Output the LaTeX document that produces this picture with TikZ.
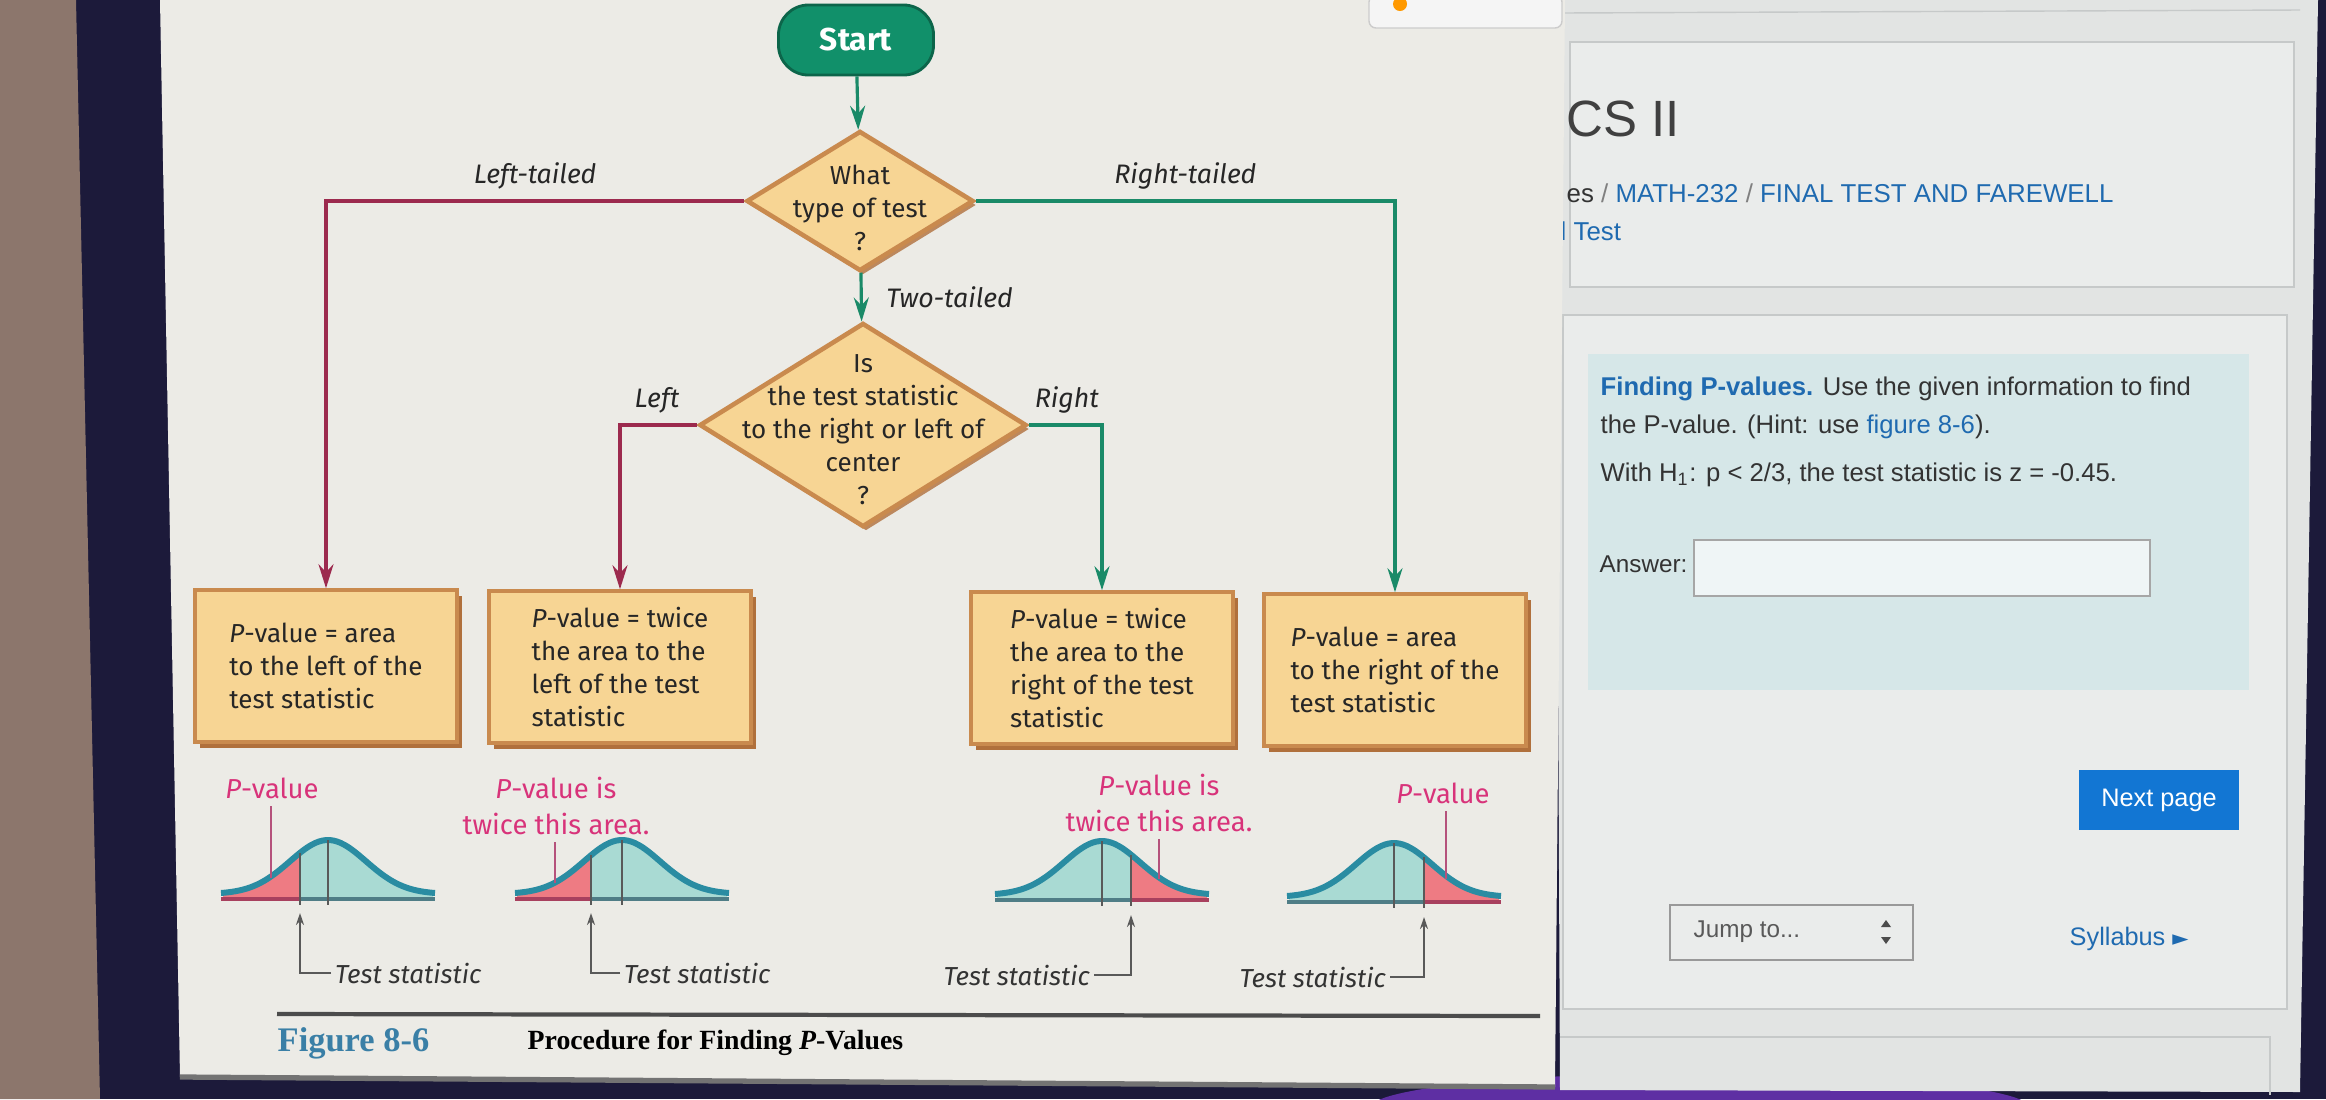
\documentclass[tikz,border=0pt]{standalone}
\usepackage{fontspec}
\setmainfont{Fira Sans}
\newfontfamily\webfont{Liberation Sans}
\newfontfamily\capfont{Liberation Serif}
\newfontfamily\symfont{DejaVu Sans}
\usetikzlibrary{shapes.geometric,arrows.meta,positioning,shadows}
\definecolor{wall}{HTML}{8C766C}
\definecolor{bezel}{HTML}{1C1A3A}
\definecolor{glow}{HTML}{5E2FA3}
\definecolor{paper}{HTML}{ECEBE6}
\definecolor{screen}{HTML}{E2E4E3}
\definecolor{panel}{HTML}{EAECEB}
\definecolor{panelline}{HTML}{C6C9C9}
\definecolor{qback}{HTML}{D6E7E8}
\definecolor{link}{HTML}{1F6AB0}
\definecolor{btn}{HTML}{1276D3}
\definecolor{startfill}{HTML}{11906A}
\definecolor{boxfill}{HTML}{F7D594}
\definecolor{boxedge}{HTML}{C98A4E}
\definecolor{boxshade}{HTML}{B0703C}
\definecolor{leftline}{HTML}{9C2A4E}
\definecolor{rightline}{HTML}{1A8A68}
\definecolor{pval}{HTML}{EE7B83}
\definecolor{pvalD}{HTML}{A8405E}
\definecolor{body}{HTML}{A9DAD3}
\definecolor{bodyD}{HTML}{4F7D86}
\definecolor{curve}{HTML}{2A8CA2}
\definecolor{pvtext}{HTML}{D8337A}
\definecolor{figblue}{HTML}{3A7FA6}

\begin{document}
\begin{tikzpicture}[x=0.01cm, y=-0.01cm,
    flow/.style={font=\fontsize{7.4}{9.4}\selectfont, text=black!85},
    startbox/.style={rounded corners=0.3cm, fill=startfill, draw=startfill!70!black, line width=0.8pt,
      minimum width=1.55cm, minimum height=0.7cm, text=white, font=\fontsize{9}{10}\selectfont\bfseries},
    quest/.style={diamond, fill=boxfill, draw=boxedge, line width=1.3pt, inner sep=0pt,
      drop shadow={shadow xshift=0.03cm, shadow yshift=-0.04cm, fill=boxshade, opacity=0.8}},
    result/.style={flow, rectangle, fill=boxfill, draw=boxedge, line width=1pt, align=left,
      minimum width=2.62cm, minimum height=1.52cm, inner sep=0pt,
      drop shadow={shadow xshift=0.05cm, shadow yshift=-0.06cm, fill=boxshade, opacity=1}},
    ltail/.style={draw=leftline, line width=0.9pt, -{Stealth[length=0.24cm, width=0.15cm, inset=0.08cm]}},
    rtail/.style={ltail, draw=rightline},
    branch/.style={font=\fontsize{7.6}{9}\selectfont\itshape, inner sep=1pt, text=black!85},
    pvlabel/.style={font=\fontsize{7.8}{10}\selectfont, text=pvtext, align=center, inner sep=0pt},
    tslabel/.style={font=\fontsize{7.4}{9}\selectfont\itshape, text=black!80, inner sep=1pt},
    leader/.style={draw=pvtext!60!gray, line width=0.5pt},
    tsarrow/.style={draw=black!65, line width=0.5pt, -{Stealth[length=0.12cm, width=0.08cm]}},
    axisline/.style={draw=black!65, line width=0.5pt},
    webtext/.style={anchor=west, inner sep=0pt, font=\webfont\fontsize{7.2}{8}\selectfont, text=black!80},
    panelbox/.style={fill=panel, draw=panelline, line width=0.6pt}]

  \useasboundingbox (0,0) rectangle (2326,1099);
  \fill[bezel] (0,0) rectangle (2326,1099);
  \fill[wall] (0,0) -- (76,0) -- (100,1099) -- (0,1099) -- cycle;
  \fill[glow] (1700,1108) ellipse (330 and 35);

  % screen on the right
  \fill[screen] (1555,0) -- (2318,0) -- (2300,1092) -- (1560,1090) -- cycle;
  \draw[panelline] (1560,13) -- (2300,10);
  \draw[panelbox] (1570,42) rectangle (2294,287);
  \node[webtext, font=\webfont\fontsize{14.5}{16}\selectfont, text=black!75] (course) at (1566,119) {CS II};
  \node[webtext, font=\webfont\fontsize{7.35}{8}\selectfont] (crumbs) at (1566,193)
    {es \textcolor{black!50}{/} \textcolor{link}{MATH-232} \textcolor{black!50}{/} \textcolor{link}{FINAL TEST AND FAREWELL}};
  \node[webtext, font=\webfont\fontsize{7.35}{8}\selectfont, text=link] (crumbs2) at (1560,231) {l Test};
  \draw[panelbox] (1563,315) rectangle (2287,1009);
  \fill[qback] (1588,354) rectangle (2249,690);
  \node[webtext, font=\webfont\fontsize{7.3}{8}\selectfont] (qline1) at (1600,389)
    {\textcolor{link}{\bfseries Finding P-values.} Use the given information to find};
  \node[webtext, font=\webfont\fontsize{7.3}{8}\selectfont] (qline2) at (1600,427)
    {the P-value. (Hint: use \textcolor{link}{figure 8-6}).};
  \node[webtext, font=\webfont\fontsize{7.3}{8}\selectfont] (qline3) at (1600,475)
    {With H\textsubscript{1}: p < 2/3, the test statistic is z = -0.45.};
  \node[webtext, font=\webfont\fontsize{6.9}{8}\selectfont] (answer) at (1599,564) {Answer:};
  \draw[fill=white!60!qback, draw=black!35, line width=0.6pt] (1694,540) rectangle (2150,596);
  \node[fill=btn, minimum width=1.6cm, minimum height=0.59cm, text=white,
    font=\webfont\fontsize{7.2}{8}\selectfont] (next) at (2159,800) {Next page};
  \draw[fill=panel, draw=black!40, line width=0.6pt] (1670,905) rectangle (1913,960);
  \node[webtext, text=black!65, font=\webfont\fontsize{6.9}{8}\selectfont] (jump) at (1693,932) {Jump to...};
  \fill[black!70] (1881,927) -- (1886,920) -- (1891,927) -- cycle;
  \fill[black!70] (1881,937) -- (1886,944) -- (1891,937) -- cycle;
  \node[webtext, text=link] (syl) at (2069,939) {Syllabus {\symfont\fontsize{6}{7}\selectfont ►}};
  \draw[panelline] (1560,1037) -- (2270,1037) -- (2270,1095);

  % the figure page
  \fill[paper] (160,0) -- (1565,0) -- (1555,1087) -- (180,1077) -- cycle;
  \draw[black!55, line width=1.5pt] (180,1077) -- (1555,1087);
  \draw[fill=white!92!gray, draw=gray!40, rounded corners=2pt] (1369,-5) rectangle (1562,28);
  \fill[orange!80!yellow] (1400,4) circle (7);

  \node[startbox] (start) at (856,40) {Start};
  \node[quest, minimum width=2.27cm, minimum height=1.40cm] (q1) at (860,201) {};
  \node[flow, align=center] (q1txt) at (860,208) {What\\type of test\\?};
  \node[quest, minimum width=3.27cm, minimum height=2.04cm] (q2) at (863,425) {};
  \node[flow, align=center] (q2txt) at (863,430) {Is\\the test statistic\\to the right or left of\\center\\?};

  \node[result] (b1) at (326,666) {\textit{P}-value = area\\to the left of the\\test statistic};
  \node[result] (b2) at (620,667) {\textit{P}-value = twice\\the area to the\\left of the test\\statistic};
  \node[result] (b3) at (1102,668) {\textit{P}-value = twice\\the area to the\\right of the test\\statistic};
  \node[result] (b4) at (1395,670) {\textit{P}-value = area\\to the right of the\\test statistic};

  \draw[rtail] (start) -- (q1);
  \draw[rtail] (q1) -- node[branch, midway, right=0.2cm] {Two-tailed} (q2);
  \draw[ltail] (q1.west) -| node[branch, pos=0.25, above=2pt] {Left-tailed} (b1.north);
  \draw[rtail] (q1.east) -| node[branch, pos=0.25, above=2pt] {Right-tailed} (b4.north);
  \draw[ltail] (q2.west) -| node[branch, pos=0.26, above=2pt] {Left} (b2.north);
  \draw[rtail] (q2.east) -| node[branch, pos=0.26, above=2pt] {Right} (b3.north);

  % normal curves
  \foreach \mx/\by/\cx/\lc/\rc/\lcD/\rcD in {328/897/-28/pval/body/pvalD/bodyD, 622/897/-31/pval/body/pvalD/bodyD,
      1102/898/29/body/pval/bodyD/pvalD, 1394/900/30/body/pval/bodyD/pvalD}{
    \begin{scope}[shift={(\mx,\by)}]
      \fill[\lc] (-105,0) -- plot[domain=-105:\cx, samples=30] (\x,{-3-54*exp(-(\x*\x)/2888)}) -- (\cx,0) -- cycle;
      \fill[\rc] (\cx,0) -- plot[domain=\cx:105, samples=40] (\x,{-3-54*exp(-(\x*\x)/2888)}) -- (105,0) -- cycle;
      \draw[\lcD, line width=1.4pt] (-107,2) -- (\cx,2);
      \draw[\rcD, line width=1.4pt] (\cx,2) -- (107,2);
      \draw[curve, line width=1.7pt] plot[domain=-107:107, samples=60, smooth] (\x,{-3-54*exp(-(\x*\x)/2888)});
      \draw[axisline] (0,-57) -- (0,8);
      \draw[axisline] (\cx,{-3-54*exp(-(\cx*\cx)/2888)}) -- (\cx,8);
    \end{scope}
  }

  \node[pvlabel] (pv1) at (272,788) {\textit{P}-value};
  \node[pvlabel] (pv2) at (556,806) {\textit{P}-value is\\twice this area.};
  \node[pvlabel] (pv3) at (1159,803) {\textit{P}-value is\\twice this area.};
  \node[pvlabel] (pv4) at (1443,793) {\textit{P}-value};
  \coordinate (tip1) at (271,878);
  \coordinate (tip2) at (555,883);
  \coordinate (tip3) at (1159,879);
  \coordinate (tip4) at (1446,879);
  \draw[leader] ([yshift=-2pt]pv1.south -| tip1) -- (tip1);
  \draw[leader] ([yshift=-2pt]pv2.south -| tip2) -- (tip2);
  \draw[leader] ([yshift=-2pt]pv3.south -| tip3) -- (tip3);
  \draw[leader] ([yshift=-2pt]pv4.south -| tip4) -- (tip4);

  \node[tslabel, anchor=west] (ts1) at (331,973) {Test statistic};
  \node[tslabel, anchor=west] (ts2) at (620,973) {Test statistic};
  \node[tslabel, anchor=east] (ts3) at (1094,975) {Test statistic};
  \node[tslabel, anchor=east] (ts4) at (1390,977) {Test statistic};
  \coordinate (cut1) at (300,913);
  \coordinate (cut2) at (591,913);
  \coordinate (cut3) at (1131,915);
  \coordinate (cut4) at (1424,917);
  \draw[tsarrow] (ts1.west) -| (cut1);
  \draw[tsarrow] (ts2.west) -| (cut2);
  \draw[tsarrow] (ts3.east) -| (cut3);
  \draw[tsarrow] (ts4.east) -| (cut4);

  \draw[draw=black!70, line width=1.2pt] (277,1014) -- (1540,1016);
  \node[anchor=west, inner sep=0pt, text=figblue, font=\capfont\bfseries\fontsize{9.8}{11}\selectfont] (fignum) at (277,1043) {Figure 8-6};
  \node[anchor=west, inner sep=0pt, font=\capfont\bfseries\fontsize{7.9}{10}\selectfont] (figtitle) at (527,1043)
    {Procedure for Finding \textit{P}-Values};
\end{tikzpicture}
\end{document}
